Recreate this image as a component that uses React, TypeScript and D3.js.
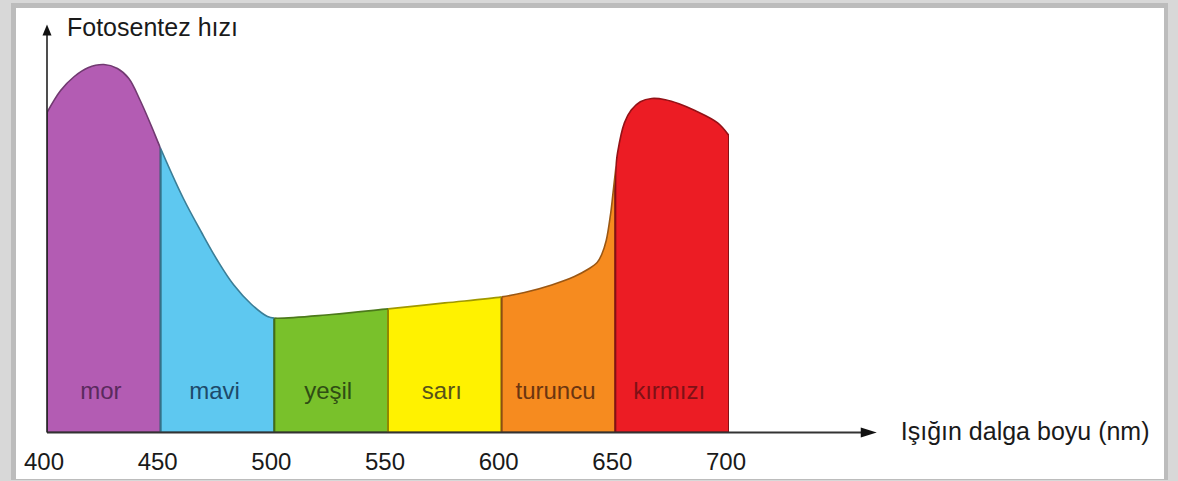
import React from 'react';
import * as d3 from 'd3';

// wavelength (nm) and relative photosynthesis rate
const wavelengths = [400, 406, 412, 418, 425, 431, 436, 441, 446, 450, 460, 468, 475, 482, 490, 497, 500, 525, 550, 575, 600, 610, 622, 632, 638, 642, 644, 646, 648, 649, 650, 651, 654, 657, 661, 666, 672, 678, 685, 695, 700];
const rates = [80, 85.5, 89, 91.2, 92, 91, 88.5, 83, 76.5, 71, 58.5, 50, 43, 37, 32, 29, 28.6, 29.5, 30.9, 32.4, 33.9, 35, 36.9, 39, 40.8, 42.5, 44.5, 48, 55, 60, 65, 70, 77.4, 80.6, 82.7, 83.5, 83.2, 82.2, 80.5, 77.4, 74.2];

// colour bands
const bandNames = ['mor', 'mavi', 'yeşil', 'sarı', 'turuncu', 'kırmızı'];
const tickValues = [400, 450, 500, 550, 600, 650, 700];

const yTitle = 'Fotosentez hızı';
const xTitle = 'Işığın dalga boyu (nm)';

// styles
const bandColors = ['#b35cb3', '#5ec8f0', '#79c12b', '#fff200', '#f68b1f', '#ec1c24'];
const labelColors = ['#5a2a5e', '#1d4a6a', '#2f4d14', '#57531a', '#6b3510', '#7e1116'];

const W = 1178;
const H = 481;
const font = '"Liberation Sans", Arial, sans-serif';

const App = () => {
  const xScale = d3.scaleLinear().domain([400, 700]).range([47, 729]);
  const yScale = d3.scaleLinear().domain([0, 100]).range([432.5, 32.5]);
  const base = yScale(0);
  const x0 = xScale(400);

  const curve = d3.curveCatmullRom.alpha(0.5);
  const area = d3
    .area<number>()
    .x((d, i) => xScale(wavelengths[i]))
    .y0(base)
    .y1((d) => yScale(d))
    .curve(curve);
  const topLine = d3
    .line<number>()
    .x((d, i) => xScale(wavelengths[i]))
    .y((d) => yScale(d))
    .curve(curve);

  const areaD = area(rates) || '';
  const lineD = topLine(rates) || '';

  const xEnd = xScale(765);
  const yTop = yScale(102);

  return (
    <svg width={W} height={H} style={{ position: 'absolute', left: 0, top: 0, display: 'block' }}>
      {/* frame */}
      <rect x={0} y={0} width={W} height={H} fill="#d8d8d8" />
      <rect x={11} y={3} width={1157} height={477} fill="#bcbcbc" />
      <rect x={16} y={8} width={1148} height={471} fill="#ffffff" />

      <defs>
        <clipPath id="under">
          <path d={areaD} />
        </clipPath>
        {bandNames.map((b, i) => (
          <clipPath id={`band${i}`} key={b}>
            <rect
              x={xScale(tickValues[i])}
              y={0}
              width={xScale(tickValues[i + 1]) - xScale(tickValues[i])}
              height={H}
            />
          </clipPath>
        ))}
      </defs>

      {/* coloured bands under the curve */}
      <g clipPath="url(#under)">
        {bandNames.map((b, i) => (
          <rect
            key={b}
            x={xScale(tickValues[i])}
            y={0}
            width={xScale(tickValues[i + 1]) - xScale(tickValues[i])}
            height={base}
            fill={bandColors[i]}
            stroke={d3.color(bandColors[i])!.darker(1.6).toString()}
            strokeWidth={2}
          />
        ))}
      </g>
      {bandNames.map((b, i) => (
        <path
          key={b}
          d={lineD}
          fill="none"
          stroke={d3.color(bandColors[i])!.darker(1.3).toString()}
          strokeWidth={1.6}
          clipPath={`url(#band${i})`}
        />
      ))}

      {/* band labels */}
      {bandNames.map((b, i) => (
        <text
          key={b}
          x={(xScale(tickValues[i]) + xScale(tickValues[i + 1])) / 2 - 3}
          y={base - 34}
          textAnchor="middle"
          fontFamily={font}
          fontSize={24}
          fill={labelColors[i]}
        >
          {b}
        </text>
      ))}

      {/* axes */}
      <line x1={x0} y1={base} x2={xEnd - 14} y2={base} stroke="#333" strokeWidth={2} />
      <polygon points={`${xEnd},${base} ${xEnd - 16},${base - 5} ${xEnd - 16},${base + 5}`} fill="#111" />
      <line x1={x0} y1={base} x2={x0} y2={yTop + 8} stroke="#222" strokeWidth={1.6} />
      <polygon points={`${x0},${yTop} ${x0 - 4.5},${yTop + 11} ${x0 + 4.5},${yTop + 11}`} fill="#111" />

      {tickValues.map((t) => (
        <text
          key={t}
          x={xScale(t) - 3}
          y={base + 37}
          textAnchor="middle"
          fontFamily={font}
          fontSize={24}
          fill="#1a1a1a"
        >
          {t}
        </text>
      ))}

      <text x={x0 + 20} y={36} fontFamily={font} fontSize={25} fill="#1a1a1a">
        {yTitle}
      </text>
      <text x={xEnd + 24} y={base + 7} fontFamily={font} fontSize={25} fill="#1a1a1a">
        {xTitle}
      </text>
    </svg>
  );
};

export default App;
